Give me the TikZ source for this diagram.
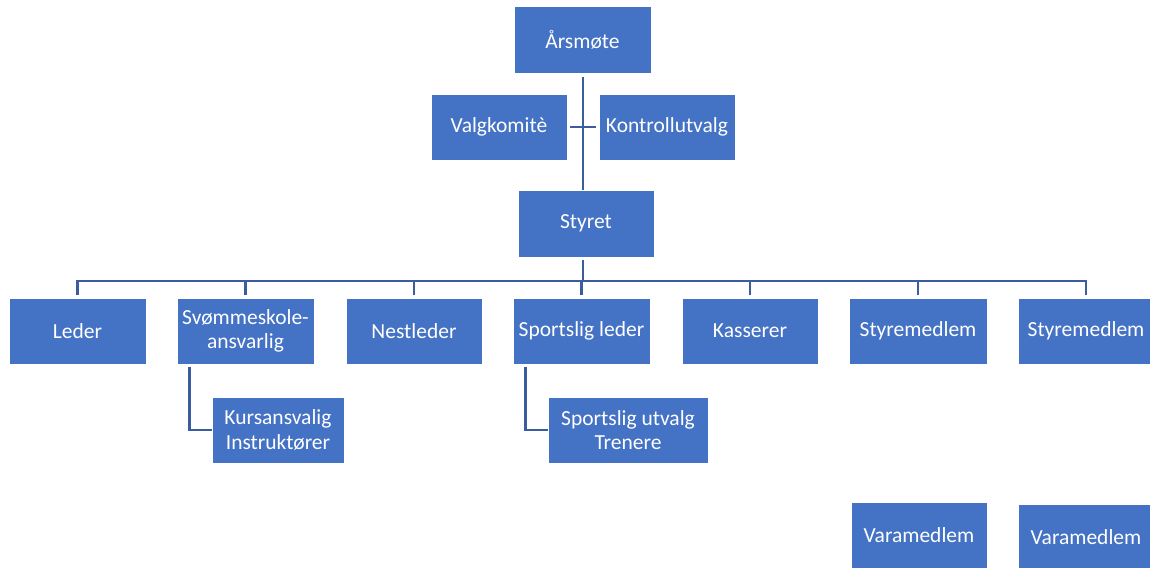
\documentclass[tikz,border=0pt]{standalone}
\usepackage{fontspec}
\setmainfont{Carlito}
\definecolor{boxblue}{HTML}{4472C4}
\definecolor{lineblue}{HTML}{3B5C9E}
\begin{document}
\begin{tikzpicture}[x=1pt,y=-1pt,
  box/.style={fill=boxblue, draw=white, line width=0.8pt, text=white, align=center,
    font=\fontsize{21.5}{24.5}\selectfont, inner sep=0pt, minimum height=66pt},
  conn/.style={draw=lineblue, line width=2.9pt}]
\useasboundingbox (0,0) rectangle (1150,567);
\clip (0,0) rectangle (1150,567);
\node[box, minimum width=137pt, minimum height=67pt] (aars) at (582.5,39.5) {Årsmøte};
\node[box, minimum width=136pt] (valg) at (499,127) {Valgkomitè};
\node[box, minimum width=136pt] (kontroll) at (667,127) {Kontrollutvalg};
\node[box, minimum width=136pt, minimum height=67pt] (styret) at (586,223.5) {Styret};
\node[box, minimum width=137pt] (leder) at (77.5,331) {Leder};
\node[box, minimum width=137pt] (svom) at (245.5,331) {Svømmeskole-\\ansvarlig};
\node[box, minimum width=136pt] (nest) at (414,331) {Nestleder};
\node[box, minimum width=137pt] (sport) at (581.5,331) {Sportslig leder};
\node[box, minimum width=136pt] (kass) at (750,331) {Kasserer};
\node[box, minimum width=138pt] (styre1) at (918,331) {Styremedlem};
\node[box, minimum width=136pt] (styre2) at (1086,331) {Styremedlem};
\node[box, minimum width=132pt] (kurs) at (278,430) {Kursansvalig\\Instruktører};
\node[box, minimum width=160pt] (sutv) at (628,430) {Sportslig utvalg\\Trenere};
\node[box, minimum width=136pt] (vara1) at (919,535) {Varamedlem};
\node[box, minimum width=136pt] (vara2) at (1086,537) {Varamedlem};
% trunk
\coordinate (bus) at (583,281);
\draw[conn, shorten <=4pt] (aars.south -| bus) -- (styret.north -| bus);
\draw[conn, shorten <=3pt, shorten >=3pt] (valg.east) -- (kontroll.west);
\draw[conn, shorten <=3pt] (styret.south -| bus) -- (bus);
\draw[conn, line cap=rect] (leder.north |- bus) -- (styre2.north |- bus);
\foreach \n in {leder,svom,nest,sport,kass,styre1,styre2}
  \draw[conn, shorten <=3pt] (\n.north) -- (\n.north |- bus);
\draw[conn, shorten <=3pt] ([xshift=13pt]svom.south west) |- (kurs.west);
\draw[conn, shorten <=3pt] ([xshift=13pt]sport.south west) |- (sutv.west);
\end{tikzpicture}
\end{document}
